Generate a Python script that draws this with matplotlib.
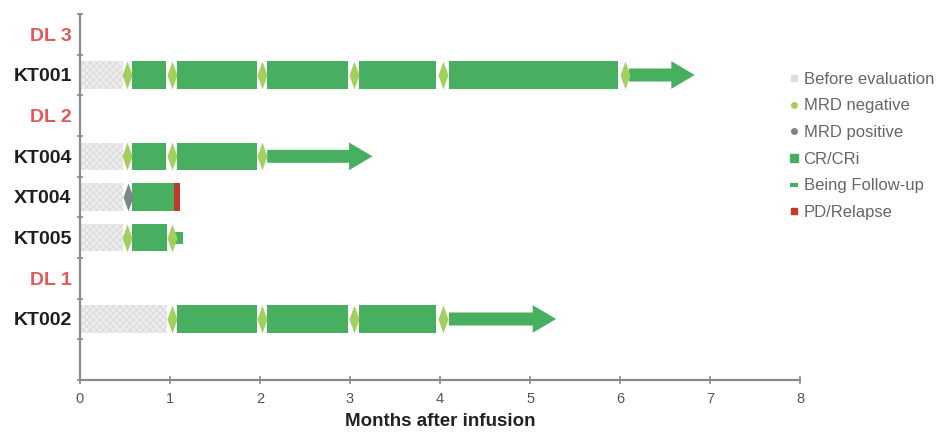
import matplotlib
matplotlib.use("Agg")
import matplotlib.pyplot as plt
from matplotlib.lines import Line2D

plt.rcParams['font.family'] = ['Liberation Sans', 'DejaVu Sans']
plt.rcParams['hatch.linewidth'] = 0.5

# rows from top to bottom (last slot is empty)
row_labels = ['DL 3', 'KT001', 'DL 2', 'KT004', 'XT004', 'KT005', 'DL 1', 'KT002', '']
group_labels = ['DL 3', 'DL 2', 'DL 1']

patients = ['KT001', 'KT004', 'XT004', 'KT005', 'KT002']
before_eval = [0.48, 0.48, 0.48, 0.48, 0.97]
cr_segments = [
    [(0.58, 0.96), (1.08, 1.97), (2.08, 2.98), (3.10, 3.96), (4.10, 5.98)],
    [(0.58, 0.96), (1.08, 1.97)],
    [(0.58, 1.04)],
    [(0.58, 0.97)],
    [(1.08, 1.97), (2.08, 2.98), (3.10, 3.96)],
]
mrd_negative = [
    [0.52, 1.02, 2.02, 3.04, 4.03, 6.05],
    [0.52, 1.02, 2.02],
    [],
    [0.52, 1.02],
    [1.02, 2.02, 3.04, 4.03],
]
mrd_positive = [[], [], [0.53], [], []]
follow_up = [(6.10, 6.83), (2.08, 3.25), None, (1.06, 1.14), (4.10, 5.29)]
relapse = [None, None, (1.04, 1.11), None, None]

x_ticks = [0, 1, 2, 3, 4, 5, 6, 7, 8]

c_green = '#48ae60'
c_mrdneg = '#a3cf5e'
c_mrdpos = '#7c8686'
c_red = '#c0392b'
c_before = '#ededed'
c_hatch = '#d6d6d6'
c_axis = '#8a8a8a'

fig = plt.figure(figsize=(9.41, 4.32), dpi=100)
ax = fig.add_axes([0.085, 0.1204, 0.7652, 0.8472])

diamond = [(-0.36, 0), (0, 1), (0.36, 0), (0, -1), (-0.36, 0)]
bar_h = 0.68

for i, p in enumerate(patients):
    y = row_labels.index(p) + 0.5
    ax.barh(y, before_eval[i], left=0, height=bar_h, color=c_before,
            edgecolor=c_hatch, hatch='xxxxx', linewidth=0)
    for s, e in cr_segments[i]:
        ax.barh(y, e - s, left=s, height=bar_h, color=c_green, linewidth=0)
    if relapse[i]:
        s, e = relapse[i]
        ax.barh(y, e - s, left=s, height=bar_h, color=c_red, linewidth=0)
    if follow_up[i]:
        s, e = follow_up[i]
        if e - s > 0.3:
            ax.arrow(s, y, e - s, 0, width=0.32, head_width=bar_h,
                     head_length=0.26, length_includes_head=True,
                     color=c_green, linewidth=0)
        else:
            ax.barh(y, e - s, left=s, height=0.3, color=c_green, linewidth=0)
    for m in mrd_negative[i]:
        ax.plot(m, y, marker=diamond, markersize=20, color=c_mrdneg,
                markeredgewidth=0, linestyle='none')
    for m in mrd_positive[i]:
        ax.plot(m, y, marker=diamond, markersize=20, color=c_mrdpos,
                markeredgewidth=0, linestyle='none')

ax.set_xlim(0, 8)
ax.set_ylim(len(row_labels), 0)
ax.set_xticks(x_ticks)
ax.set_xticklabels([str(t) for t in x_ticks], fontsize=10.5, color='#555555')
ax.set_xlabel('Months after infusion', fontsize=13.5, fontweight='bold',
              color='#222222', labelpad=5)

ax.set_yticks(range(len(row_labels) + 1))
ax.set_yticklabels([])
ax.set_yticks([k + 0.5 for k in range(len(row_labels))], minor=True)
ax.set_yticklabels(row_labels, minor=True, fontsize=14, fontweight='bold')
for lbl in ax.get_yticklabels(minor=True):
    if lbl.get_text() in group_labels:
        lbl.set_color('#e05a5a')
    else:
        lbl.set_color('#1e1e1e')

ax.tick_params(axis='y', which='minor', length=0, pad=6)
ax.tick_params(axis='y', which='major', direction='inout', length=5,
               width=1.2, color=c_axis)
ax.tick_params(axis='x', direction='inout', length=6, width=1.2,
               color=c_axis, pad=6)

for side in ['top', 'right']:
    ax.spines[side].set_visible(False)
for side in ['left', 'bottom']:
    ax.spines[side].set_color(c_axis)
    ax.spines[side].set_linewidth(1.6)

handles = [
    Line2D([], [], marker='s', markersize=5, color='#dcdcdc', linestyle='none'),
    Line2D([], [], marker='o', markersize=4, color=c_mrdneg, linestyle='none'),
    Line2D([], [], marker='o', markersize=4, color=c_mrdpos, linestyle='none'),
    Line2D([], [], marker='s', markersize=6, color=c_green, linestyle='none'),
    Line2D([], [], marker='_', markersize=6, markeredgewidth=3, color=c_green,
           linestyle='none'),
    Line2D([], [], marker='s', markersize=5, color=c_red, linestyle='none'),
]
labels = ['Before evaluation', 'MRD negative', 'MRD positive', 'CR/CRi',
          'Being Follow-up', 'PD/Relapse']
leg = ax.legend(handles, labels, loc='upper left',
                bbox_to_anchor=(0.838, 0.834), bbox_transform=fig.transFigure,
                frameon=False, fontsize=12, handlelength=0.6,
                handletextpad=0.3, labelspacing=0.7, borderpad=0,
                borderaxespad=0)
for t in leg.get_texts():
    t.set_color('#666666')

fig.savefig('out.png', dpi=100)
